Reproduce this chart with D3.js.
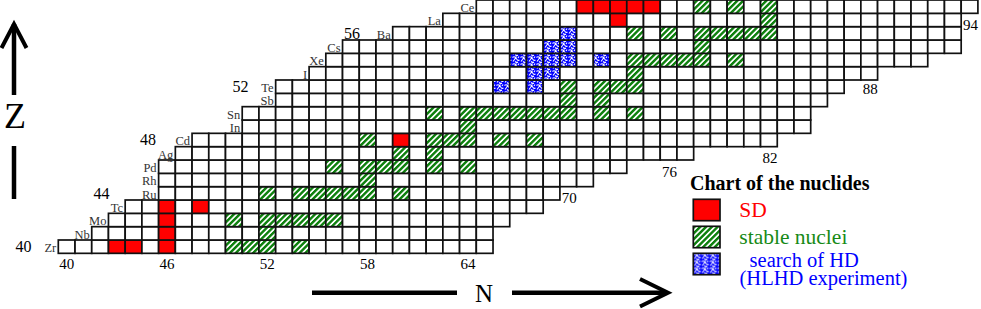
<!DOCTYPE html>
<html>
<head>
  <title>Chart of the nuclides</title>
  <style type="text/css">
    body { margin: 0; background: #fff; }
    svg { display: block; }
    text { font-family: 'Liberation Serif', 'Times New Roman', serif; }
  </style>
</head>
<body>
<svg id='vis' width='981' height='309'></svg>

<script src="https://cdnjs.cloudflare.com/ajax/libs/d3/7.8.5/d3.min.js"></script>
<script type="text/javascript">

  // rows of the chart, bottom to top
  var elements = ['Zr', 'Nb', 'Mo', 'Tc', 'Ru', 'Rh', 'Pd', 'Ag', 'Cd', 'In',
                  'Sn', 'Sb', 'Te', 'I', 'Xe', 'Cs', 'Ba', 'La', 'Ce'];
  var protons  = [40, 41, 42, 43, 44, 45, 46, 47, 48, 49,
                  50, 51, 52, 53, 54, 55, 56, 57, 58];
  // first and last neutron number drawn in each row
  var nFirst   = [40, 42, 43, 44, 46, 46, 46, 47, 48, 51,
                  51, 53, 53, 55, 56, 57, 60, 63, 65];
  var nLast    = [65, 65, 66, 68, 69, 71, 73, 77, 82, 84,
                  84, 85, 86, 88, 91, 93, 93, 93, 94];

  // marked nuclides, neutron numbers per row (same order as elements)
  var sdN = [[43, 44, 46], [46], [46], [46, 48], [], [], [], [], [60], [],
             [], [], [], [], [], [], [], [73], [71, 72, 73, 74, 75]];
  var stableN = [[50, 51, 52, 54], [52], [50, 52, 53, 54, 55, 56], [],
                 [52, 54, 55, 56, 57, 58, 60], [58], [56, 58, 59, 60, 62, 64],
                 [60, 62], [58, 62, 63, 64, 66, 68], [64],
                 [62, 64, 65, 66, 67, 68, 69, 70, 72, 74], [70, 72],
                 [70, 72, 73, 74], [74], [74, 75, 76, 77, 78, 80], [78],
                 [74, 76, 78, 79, 80, 81, 82], [82], [78, 80, 82]];
  var hdN = [[], [], [], [], [], [], [], [], [], [],
             [], [], [66, 68], [68, 69], [67, 68, 69, 70, 72], [69, 70], [70], [], []];

  // axis numbers
  var zTicks = [40, 44, 48, 52, 56];
  var nTicksBottom = [40, 46, 52, 58, 64];
  var nTicksSide = [70, 76, 82, 88, 94];
  var nTicksSideRow = [44, 46, 47, 52, 57];

  var legendItems = [
    { label: 'SD', type: 'sd', color: '#ff0000' },
    { label: 'stable nuclei', type: 'stable', color: '#168a16' },
    { label: '  search of HD', type: 'hd', color: '#0000ff' }
  ];

  var svg = d3.select('#vis');

  var x = d3.scaleLinear().domain([40, 95]).range([58.3, 977.9]),
      y = d3.scaleLinear().domain([40, 58]).range([240, 0]),   // top of row
      cw = x(41) - x(40),
      ch = y(40) - y(41);

  var defs = svg.append('defs');

  var stripes = defs.append('pattern')
    .attr('id', 'stable')
    .attr('patternUnits', 'userSpaceOnUse')
    .attr('width', 4.1).attr('height', 4.1)
    .attr('patternTransform', 'rotate(45)');
  stripes.append('rect').attr('width', 4.1).attr('height', 4.1).attr('fill', '#fff');
  stripes.append('rect').attr('width', 2.4).attr('height', 4.1).attr('fill', '#0c800c');

  var weave = defs.append('pattern')
    .attr('id', 'hd')
    .attr('patternUnits', 'userSpaceOnUse')
    .attr('width', 8).attr('height', 7);
  weave.append('rect').attr('width', 8).attr('height', 7).attr('fill', '#0000ff');
  weave.append('path')
    .attr('d', 'M0.5,1.5 Q2,0 3.5,1.5 L5,3.5 Q6,5 7.5,4 M4.5,0.5 L2.5,3.5 L1,5.5 M7,0.5 L6,2 M3,5.5 Q4.5,7 6,6')
    .attr('fill', 'none').attr('stroke', '#fff').attr('stroke-width', 1.1);

  function fillFor(type) {
    if (type == 'sd') return '#ff0000';
    if (type == 'stable') return 'url(#stable)';
    if (type == 'hd') return 'url(#hd)';
    return '#fff';
  }

  // build the cells of each row
  var cells = [];
  protons.forEach(function(z, i) {
    for (var n = nFirst[i]; n <= nLast[i]; n++) {
      var type = 'none';
      if (sdN[i].indexOf(n) >= 0) type = 'sd';
      else if (hdN[i].indexOf(n) >= 0) type = 'hd';
      else if (stableN[i].indexOf(n) >= 0) type = 'stable';
      cells.push({ z: z, n: n, type: type });
    }
  });

  svg.append('g')
    .selectAll('rect')
    .data(cells)
    .enter().append('rect')
      .attr('x', function(d) { return x(d.n) })
      .attr('y', function(d) { return y(d.z) })
      .attr('width', cw)
      .attr('height', ch)
      .attr('fill', function(d) { return fillFor(d.type) })
      .attr('stroke', '#111')
      .attr('stroke-width', 1.7);

  // element symbols
  svg.append('g')
    .selectAll('text')
    .data(protons)
    .enter().append('text')
      .attr('x', function(z, i) { return x(nFirst[i]) - 2 })
      .attr('y', function(z) { return y(z) + ch - 1.5 })
      .attr('text-anchor', 'end')
      .attr('font-size', 12.5)
      .attr('fill', '#333')
      .text(function(z, i) { return elements[i] });

  // proton numbers
  var zRight = { 40: 31.5, 44: 109.5, 48: 156, 52: 248.5, 56: 360 };
  svg.append('g')
    .selectAll('text')
    .data(zTicks)
    .enter().append('text')
      .attr('x', function(z) { return zRight[z] })
      .attr('y', function(z) { return y(z) + ch - 1.5 })
      .attr('text-anchor', 'end')
      .attr('font-size', 16)
      .text(function(z) { return z });

  // neutron numbers
  svg.append('g')
    .selectAll('text')
    .data(nTicksBottom)
    .enter().append('text')
      .attr('x', function(n) { return x(n) + cw / 2 })
      .attr('y', 269)
      .attr('text-anchor', 'middle')
      .attr('font-size', 15)
      .text(function(n) { return n });

  svg.append('g')
    .selectAll('text')
    .data(nTicksSide)
    .enter().append('text')
      .attr('x', function(n) { return x(n) + cw / 2 + 1 })
      .attr('y', function(n, i) { return y(nTicksSideRow[i]) + ch + (n == 88 ? 0.8 : 3.2) })
      .attr('text-anchor', 'middle')
      .attr('font-size', 15)
      .text(function(n) { return n });

  // axis arrows
  var arrows = svg.append('g')
    .attr('stroke', '#000')
    .attr('fill', 'none')
    .attr('stroke-width', 4.5);
  arrows.append('path').attr('d', 'M14,24 L14,95');
  arrows.append('path').attr('d', 'M1.5,48 L14,24 L26.5,48').attr('stroke-width', 4);
  arrows.append('path').attr('d', 'M14,146 L14,199');
  arrows.append('path').attr('d', 'M312,292.7 L457,292.7');
  arrows.append('path').attr('d', 'M512,292.7 L667,292.7');
  arrows.append('path').attr('d', 'M640,279 L668,292.7 L640,306.5').attr('stroke-width', 4);

  svg.append('text')
    .attr('x', 15).attr('y', 128)
    .attr('text-anchor', 'middle')
    .attr('font-size', 36)
    .text('Z');
  svg.append('text')
    .attr('x', 484).attr('y', 302)
    .attr('text-anchor', 'middle')
    .attr('font-size', 25)
    .text('N');

  // legend
  var legend = svg.append('g');
  legend.append('text')
    .attr('x', 690).attr('y', 190)
    .attr('font-size', 20)
    .attr('font-weight', 'bold')
    .text('Chart of the nuclides');

  var li = legend.selectAll('g.item')
    .data(legendItems)
    .enter().append('g')
      .attr('class', 'item')
      .attr('transform', function(d, i) { return 'translate(693.3,' + (199.3 + i * 27) + ')' });
  li.append('rect')
    .attr('width', 26.7).attr('height', 21.4)
    .attr('fill', function(d) { return fillFor(d.type) })
    .attr('stroke', '#111').attr('stroke-width', 1.7);
  li.append('text')
    .attr('x', 46).attr('y', function(d, i) { return i == 2 ? 13.5 : 17.5 })
    .attr('font-size', function(d, i) { return i == 2 ? 20.5 : 21.5 })
    .attr('fill', function(d) { return d.color })
    .attr('xml:space', 'preserve')
    .style('white-space', 'pre')
    .text(function(d) { return d.label });
  legend.append('text')
    .attr('x', 739.5).attr('y', 285)
    .attr('font-size', 20.5)
    .attr('fill', '#0000ff')
    .text('(HLHD experiment)');

</script>
</body>
</html>
